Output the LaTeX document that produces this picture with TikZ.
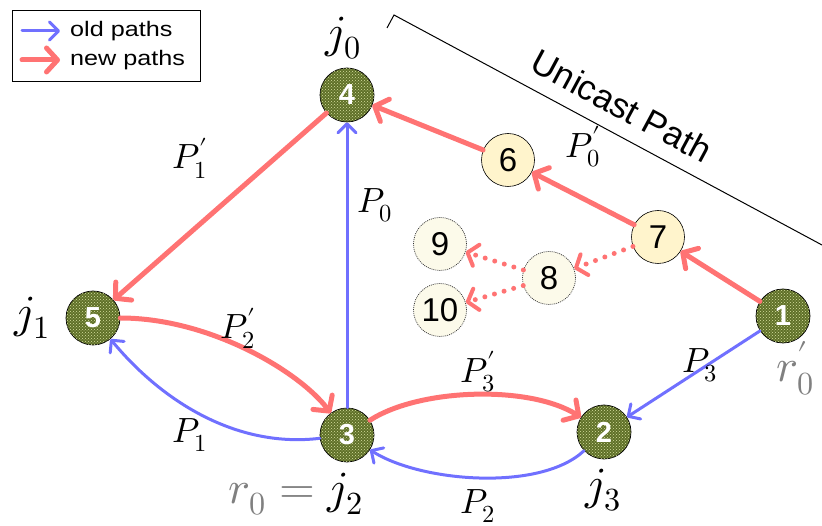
\documentclass[tikz,border=0pt]{standalone}
\usepackage{fontspec}
\usepackage{unicode-math}
\setmathfont{Latin Modern Math}
\setsansfont{Liberation Sans}
\usetikzlibrary{arrows.meta,patterns}
\definecolor{newred}{RGB}{255,115,115}
\definecolor{oldblue}{RGB}{112,112,255}
\definecolor{olivefill}{RGB}{95,112,40}
\definecolor{dotcol}{RGB}{215,225,160}
\definecolor{nodeyel}{RGB}{255,244,204}
\definecolor{nodepale}{RGB}{252,250,234}
\definecolor{labgray}{RGB}{128,128,128}
\begin{document}
\begin{tikzpicture}[x=1pt,y=-1pt,
  greennode/.style={circle, draw=black, line width=0.7pt, minimum size=54pt, inner sep=0pt,
    fill=olivefill, postaction={pattern=crosshatch dots, pattern color=dotcol},
    text=white, font=\sffamily\bfseries\fontsize{29}{32}\selectfont},
  yelnode/.style={circle, draw=black, line width=0.6pt, minimum size=53pt, inner sep=0pt,
    fill=nodeyel, font=\sffamily\fontsize{33}{36}\selectfont},
  palenode/.style={circle, draw=black!80, dash pattern=on 1pt off 1pt, line width=0.7pt, minimum size=53pt, inner sep=0pt,
    fill=nodepale, font=\sffamily\fontsize{33}{36}\selectfont},
  newpath/.style={draw=newred, line width=5pt, line cap=round,
    -{Straight Barb[length=11pt,width=24pt,round]}},
  dotpath/.style={draw=newred, line width=5pt, line cap=round, dash pattern=on 0pt off 10pt,
    -{Straight Barb[length=9pt,width=22pt,round,line width=4pt]}},
  oldpath/.style={draw=oldblue, line width=3pt, line cap=round,
    -{Straight Barb[length=9pt,width=18pt,round]}},
  plab/.style={font=\fontsize{35}{38}\selectfont, inner sep=0pt},
  jlab/.style={font=\fontsize{46}{50}\selectfont, inner sep=0pt},
  legtext/.style={font=\sffamily\fontsize{21}{24}\selectfont, anchor=west, inner sep=0pt}
]
\useasboundingbox (0,0) rectangle (822,526);

% legend
\node[draw=black, line width=1.2pt, minimum width=188pt, minimum height=71pt, anchor=north west] (legend) at (12,10) {};
\coordinate (lb1) at (22,31);
\coordinate (lb2) at (60,31);
\coordinate (lr1) at (22,60);
\coordinate (lr2) at (60,60);
\draw[oldpath] (lb1) -- (lb2);
\draw[newpath] (lr1) -- (lr2);
\node[legtext] (oldtxt) at (70,31) {\scalebox{1.2}[1]{old paths}};
\node[legtext] (newtxt) at (70,60) {\scalebox{1.2}[1]{new paths}};

% unicast bracket
\coordinate (u0) at (387,28);
\coordinate (u1) at (394,15);
\coordinate (u2) at (822,245);
\draw[black, line width=1pt] (u0) -- (u1) -- (u2);
\node[font=\sffamily\fontsize{35}{38}\selectfont, rotate=-28.3, inner sep=0pt] (uni) at (622,106) {Unicast Path};

% nodes
\node[greennode] (n4) at (347,95) {4};
\node[greennode] (n1) at (783,316) {1};
\node[greennode] (n2) at (604,432) {2};
\node[greennode] (n3) at (347,435) {3};
\node[greennode] (n5) at (93,318) {5};
\node[yelnode] (n6) at (508,160) {6};
\node[yelnode] (n7) at (658,237) {7};
\node[palenode] (n8) at (549,278) {8};
\node[palenode] (n9) at (440,244) {9};
\node[palenode] (n10) at (440,310) {10};

% new paths
\draw[newpath] (n6) -- (n4);
\draw[newpath] (n7) -- (n6);
\draw[newpath] (n1) -- (n7);
\draw[newpath] (n4) -- (n5);
\draw[newpath] (n5) .. controls (210,318) and (300,372) .. (n3);
\draw[newpath] (n3) .. controls (420,388) and (530,385) .. (n2);
\draw[dotpath] (n7) -- (n8);
\draw[dotpath] (n8) -- (n9);
\draw[dotpath] (n8) -- (n10);

% old paths
\draw[oldpath] (n3) -- (n4);
\draw[oldpath] (n1) -- (n2);
\draw[oldpath] (n3) .. controls (240,448) and (165,405) .. (n5);
\draw[oldpath] (n2) .. controls (540,492) and (420,482) .. (n3);

% labels
\node[jlab] (j0) at (343,38) {$j_0$};
\node[jlab] (j1) at (32,318) {$j_1$};
\node[jlab] (j3) at (603,490) {$j_3$};
\node[jlab, anchor=base] (j2) at (296,503) {${\color{labgray}r_0} \mathrel{\color{labgray}=} j_2$};
\node[jlab, text=labgray] (r0p) at (795,368) {$r'_0$};
\node[plab] (p1p) at (190,158) {$P'_1$};
\node[plab] (p0) at (375,205) {$P_0$};
\node[plab] (p0p) at (583,147) {$P'_0$};
\node[plab] (p2p) at (238,328) {$P'_2$};
\node[plab] (p3p) at (478,372) {$P'_3$};
\node[plab] (p3) at (700,365) {$P_3$};
\node[plab] (p1) at (190,435) {$P_1$};
\node[plab] (p2) at (478,506) {$P_2$};
\end{tikzpicture}
\end{document}
